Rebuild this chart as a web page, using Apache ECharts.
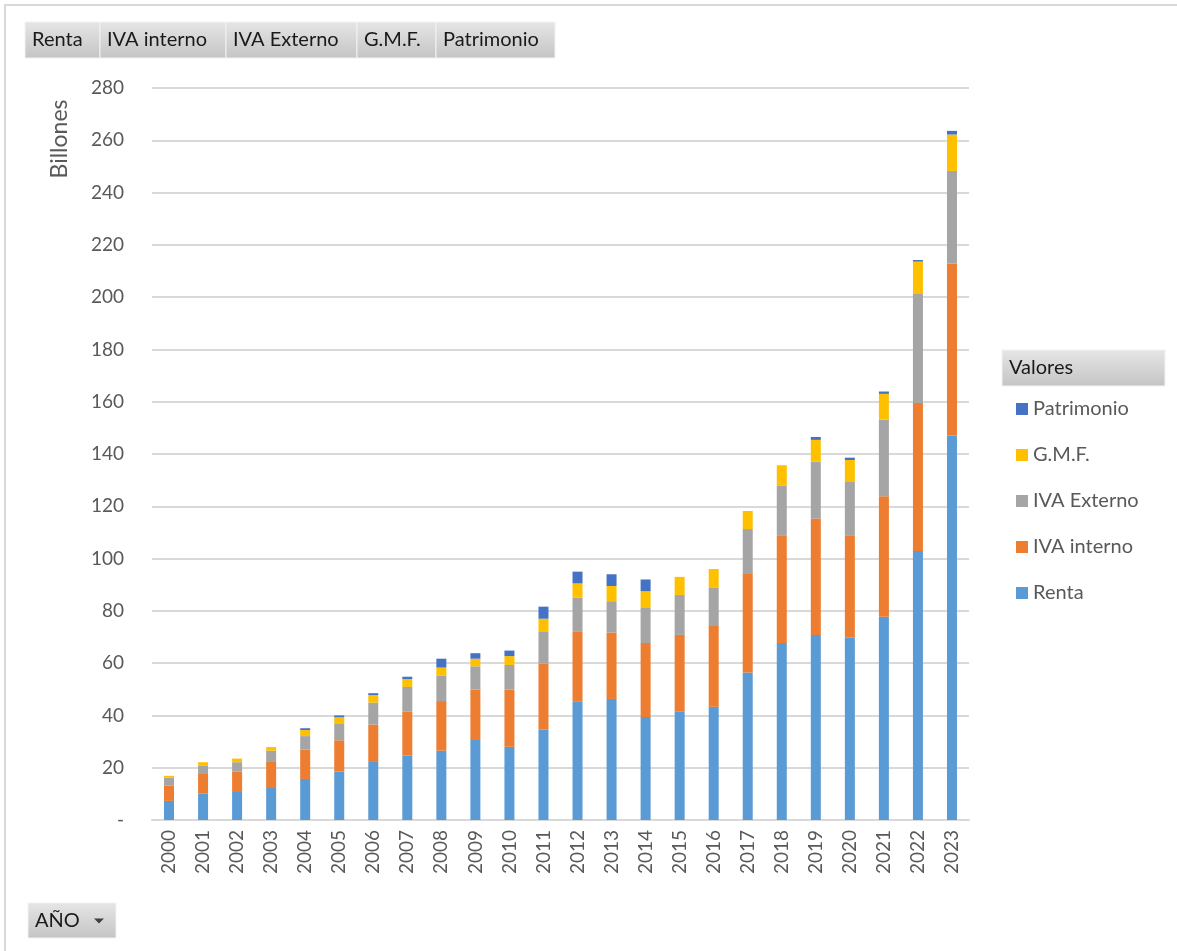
<!DOCTYPE html>
<html>
<head>
<meta charset="utf-8">
<script src="https://cdn.jsdelivr.net/npm/echarts@6/dist/echarts.min.js"></script>
<style>
  html, body { margin: 0; padding: 0; background: #fff; }
  #chart { width: 1177px; height: 951px; }
</style>
</head>
<body>
<div id="chart"></div>
<script>
// datos (billones)
var years = ['2000', '2001', '2002', '2003', '2004', '2005', '2006', '2007', '2008', '2009', '2010', '2011',
    '2012', '2013', '2014', '2015', '2016', '2017', '2018', '2019', '2020', '2021', '2022', '2023'];
var renta = [7.3, 10.2, 10.7, 12.6, 15.7, 18.6, 22.2, 24.6, 26.5, 30.6, 28.0, 34.6,
    45.4, 46.3, 39.4, 41.4, 43.3, 56.4, 67.7, 70.8, 69.7, 77.7, 102.9, 147.1];
var ivaInterno = [5.8, 7.4, 7.9, 9.6, 11.3, 11.9, 14.3, 16.8, 19.0, 19.3, 21.9, 25.2,
    26.8, 25.4, 28.3, 29.4, 30.9, 37.7, 41.2, 44.5, 39.2, 46.1, 56.6, 65.8];
var ivaExterno = [3.1, 3.1, 3.5, 4.3, 5.1, 6.5, 8.4, 9.5, 9.8, 8.9, 9.4, 12.4,
    12.9, 12.0, 13.4, 15.3, 14.8, 17.2, 18.9, 21.8, 20.4, 29.3, 41.7, 35.4];
var gmf = [0.7, 1.4, 1.4, 1.4, 2.3, 2.3, 2.9, 3.0, 3.0, 2.9, 3.4, 4.8,
    5.4, 5.8, 6.4, 6.9, 7.0, 6.9, 7.9, 8.3, 8.4, 9.9, 12.4, 13.9];
var patrimonio = [0, 0, 0, 0, 0.7, 0.7, 0.7, 0.9, 3.4, 2.1, 2.1, 4.6,
    4.5, 4.5, 4.5, 0, 0, 0, 0, 1.1, 0.9, 0.9, 0.6, 1.4];

var nombres = ['Renta', 'IVA interno', 'IVA Externo', 'G.M.F.', 'Patrimonio'];
var colores = ['#5B9BD5', '#ED7D31', '#A5A5A5', '#FFC000', '#4472C4'];
var valores = [renta, ivaInterno, ivaExterno, gmf, patrimonio];

var fuente = 'Lato, "Open Sans", sans-serif';

var chart = echarts.init(document.getElementById('chart'));

// botones grises tipo tabla dinamica
function boton(x, y, w, h, texto, flecha) {
    var g = [{
        type: 'rect',
        shape: { x: x, y: y, width: w, height: h },
        style: {
            fill: new echarts.graphic.LinearGradient(0, 0, 0, 1, [
                { offset: 0, color: '#e6e6e6' },
                { offset: 1, color: '#c4c4c4' }
            ]),
            stroke: '#f2f2f2', lineWidth: 1
        }
    }, {
        type: 'text',
        x: x + 7, y: y + h / 2,
        style: { text: texto, font: '20px ' + fuente, fill: '#1a1a1a', verticalAlign: 'middle' }
    }];
    if (flecha) {
        g.push({
            type: 'polygon',
            shape: { points: [[x + w - 22, y + h / 2 - 2], [x + w - 12, y + h / 2 - 2], [x + w - 17, y + h / 2 + 3]] },
            style: { fill: '#404040' }
        });
    }
    return g;
}

var graficos = [{
    type: 'rect',
    shape: { x: 5, y: 5, width: 1180, height: 960 },
    style: { fill: 'none', stroke: '#d9d9d9', lineWidth: 2 }
}, {
    type: 'text',
    x: 60, y: 139,
    rotation: Math.PI / 2,
    style: { text: 'Billones', font: '23px ' + fuente, fill: '#595959', align: 'center', verticalAlign: 'middle' }
}];
var campos = [[25, 75], [100, 126], [226, 131], [357, 79], [436, 119]];
campos.forEach(function (c, i) {
    graficos = graficos.concat(boton(c[0], 22, c[1], 36, nombres[i]));
});
graficos = graficos.concat(boton(1002, 350, 163, 36, 'Valores'));
graficos = graficos.concat(boton(28, 903, 88, 35, 'AÑO', true));

chart.setOption({
    animation: false,
    graphic: graficos,
    grid: { left: 152, right: 208, top: 88, bottom: 131 },
    legend: {
        data: nombres.slice().reverse(),
        orient: 'vertical',
        left: 1011,
        top: 394,
        itemWidth: 12,
        itemHeight: 12,
        itemGap: 26,
        icon: 'rect',
        textStyle: { fontSize: 20, color: '#595959', fontFamily: fuente }
    },
    xAxis: {
        type: 'category',
        data: years,
        axisLine: { lineStyle: { color: '#d9d9d9', width: 2 } },
        axisTick: { show: false },
        axisLabel: { rotate: 90, fontSize: 19, color: '#595959', fontFamily: fuente, margin: 10 }
    },
    yAxis: {
        type: 'value',
        min: 0,
        max: 280,
        interval: 20,
        axisLine: { show: false },
        axisTick: { show: false },
        axisLabel: {
            fontSize: 19, color: '#595959', fontFamily: fuente, margin: 28,
            formatter: function (v) { return v === 0 ? '-' : v; }
        },
        splitLine: { lineStyle: { color: '#d9d9d9', width: 2 } }
    },
    series: nombres.map(function (n, i) {
        return {
            name: n,
            type: 'bar',
            stack: 'total',
            barWidth: 10,
            itemStyle: { color: colores[i] },
            data: valores[i]
        };
    })
});
</script>
</body>
</html>
